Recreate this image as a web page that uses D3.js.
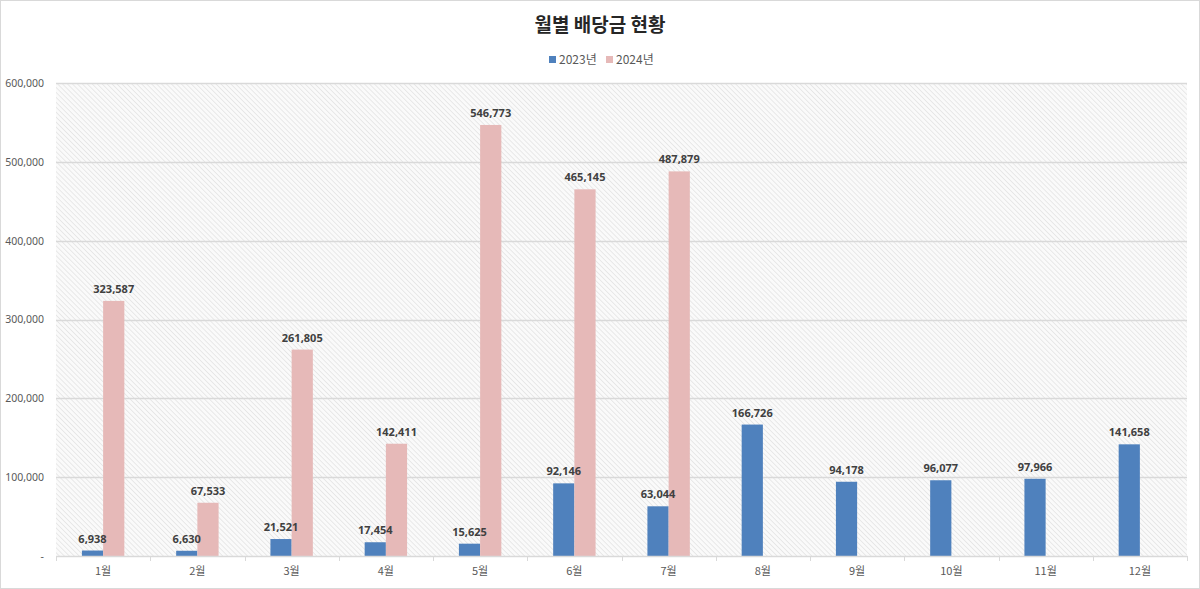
<!DOCTYPE html>
<html>
<head>
<meta charset="utf-8">
<script src="https://cdn.jsdelivr.net/npm/d3@7"></script>
<style>
  body { margin: 0; background: #fff; }
  text { font-family: 'Noto Sans CJK KR', 'Noto Sans', sans-serif; }
</style>
</head>
<body>
<div id="chart"></div>
<script>
const months = ['1월', '2월', '3월', '4월', '5월', '6월', '7월', '8월', '9월', '10월', '11월', '12월']
const series = ['2023년', '2024년']
const values2023 = [6938, 6630, 21521, 17454, 15625, 92146, 63044, 166726, 94178, 96077, 97966, 141658]
const values2024 = [323587, 67533, 261805, 142411, 546773, 465145, 487879, null, null, null, null, null]
const yTicks = [0, 100000, 200000, 300000, 400000, 500000, 600000]
const colors = ['#4f81bd', '#e6b9b8']

const W = 1200
const H = 589
const margin = { top: 83, left: 56, right: 13, bottom: 33 }
const width = W - margin.left - margin.right
const height = H - margin.top - margin.bottom

const root = d3.select('#chart')
  .append('svg')
  .attr('width', W)
  .attr('height', H)

// diagonal hatch for the plot area
const defs = root.append('defs')
const pat = defs.append('pattern')
  .attr('id', 'hatch')
  .attr('patternUnits', 'userSpaceOnUse')
  .attr('width', 3.5)
  .attr('height', 3.5)
  .attr('patternTransform', 'rotate(-45)')
pat.append('rect').attr('width', 3.5).attr('height', 3.5).attr('fill', '#fafafa')
pat.append('line')
  .attr('x1', 0).attr('y1', 0).attr('x2', 0).attr('y2', 3.5)
  .attr('stroke', '#e0e0e0')
  .attr('stroke-width', 1.3)

// outer border
root.append('rect')
  .attr('x', 0.5).attr('y', 0.5)
  .attr('width', W - 1).attr('height', H - 1)
  .attr('fill', 'white')
  .attr('stroke', '#d9d9d9')

root.append('text')
  .attr('x', W / 2)
  .attr('y', 32)
  .attr('text-anchor', 'middle')
  .attr('font-size', 19)
  .attr('font-weight', 'bold')
  .attr('fill', '#262626')
  .text('월별 배당금 현황')

// legend
const legend = root.append('g').attr('transform', 'translate(549,60)')
series.forEach((s, i) => {
  const g = legend.append('g').attr('transform', 'translate(' + i * 57 + ',0)')
  g.append('rect').attr('x', 0).attr('y', -4).attr('width', 7).attr('height', 7).attr('fill', colors[i])
  g.append('text')
    .attr('x', 10)
    .attr('y', 0)
    .attr('dy', '0.35em')
    .attr('font-size', 12)
    .attr('fill', '#595959')
    .text(s)
})

const svg = root.append('g')
  .attr('transform', 'translate(' + margin.left + ',' + margin.top + ')')

const xScale = d3.scaleBand()
  .domain(months)
  .range([0, width])
  .paddingInner(0)
  .paddingOuter(0)

const xInner = d3.scaleBand()
  .domain(series)
  .range([xScale.bandwidth() * 0.275, xScale.bandwidth() * 0.725])

const yScale = d3.scaleLinear()
  .domain([0, 600000])
  .range([height, 0])

svg.append('rect')
  .attr('width', width)
  .attr('height', height)
  .attr('fill', 'url(#hatch)')

// gridlines
svg.append('g')
  .selectAll('line')
  .data(yTicks.slice(1))
  .enter()
  .append('line')
  .attr('x1', 0)
  .attr('x2', width)
  .attr('y1', d => Math.round(yScale(d)) + 0.5)
  .attr('y2', d => Math.round(yScale(d)) + 0.5)
  .attr('stroke', '#d9d9d9')
  .attr('stroke-width', 1.5)

const fmt = d3.format(',')

const yAxis = d3.axisLeft(yScale)
  .tickValues(yTicks)
  .tickSize(0)
  .tickPadding(12)
  .tickFormat(d => (d === 0 ? '-' : fmt(d)))
const yG = svg.append('g').call(yAxis)
yG.select('.domain').remove()
yG.selectAll('text')
  .attr('font-size', 10.5)
  .attr('fill', '#595959')
  .style('font-family', "'Noto Sans', sans-serif")

const rows = months.map((m, i) => ({ month: m, vals: [values2023[i], values2024[i]] }))

const groups = svg.selectAll('.month')
  .data(rows)
  .enter()
  .append('g')
  .attr('transform', d => 'translate(' + xScale(d.month) + ',0)')

groups.selectAll('rect')
  .data(d => d.vals.map((v, i) => ({ s: series[i], v, i })).filter(e => e.v != null))
  .enter()
  .append('rect')
  .attr('x', d => xInner(d.s))
  .attr('width', xInner.bandwidth())
  .attr('y', d => yScale(d.v))
  .attr('height', d => height - yScale(d.v))
  .attr('fill', d => colors[d.i])

groups.selectAll('text.lbl')
  .data(d => d.vals.map((v, i) => ({ s: series[i], v, i })).filter(e => e.v != null))
  .enter()
  .append('text')
  .attr('class', 'lbl')
  .attr('x', d => xInner(d.s) + xInner.bandwidth() / 2)
  .attr('y', d => yScale(d.v) - 8)
  .attr('text-anchor', 'middle')
  .attr('font-size', 11)
  .attr('font-weight', 'bold')
  .attr('fill', '#404040')
  .style('font-family', "'Noto Sans', sans-serif")
  .text(d => fmt(d.v))

// x axis
const xAxis = d3.axisBottom(xScale).tickSize(0).tickPadding(11)
const xG = svg.append('g')
  .attr('transform', 'translate(0,' + height + ')')
  .call(xAxis)
xG.select('.domain').attr('stroke', '#d9d9d9').attr('stroke-width', 1.5)
xG.selectAll('text').attr('font-size', 11).attr('fill', '#595959')

xG.selectAll('line.sep')
  .data(d3.range(months.length + 1))
  .enter()
  .append('line')
  .attr('class', 'sep')
  .attr('x1', d => Math.round(d * xScale.step()) + 0.5)
  .attr('x2', d => Math.round(d * xScale.step()) + 0.5)
  .attr('y1', 0)
  .attr('y2', 5)
  .attr('stroke', '#d9d9d9')
</script>
</body>
</html>
